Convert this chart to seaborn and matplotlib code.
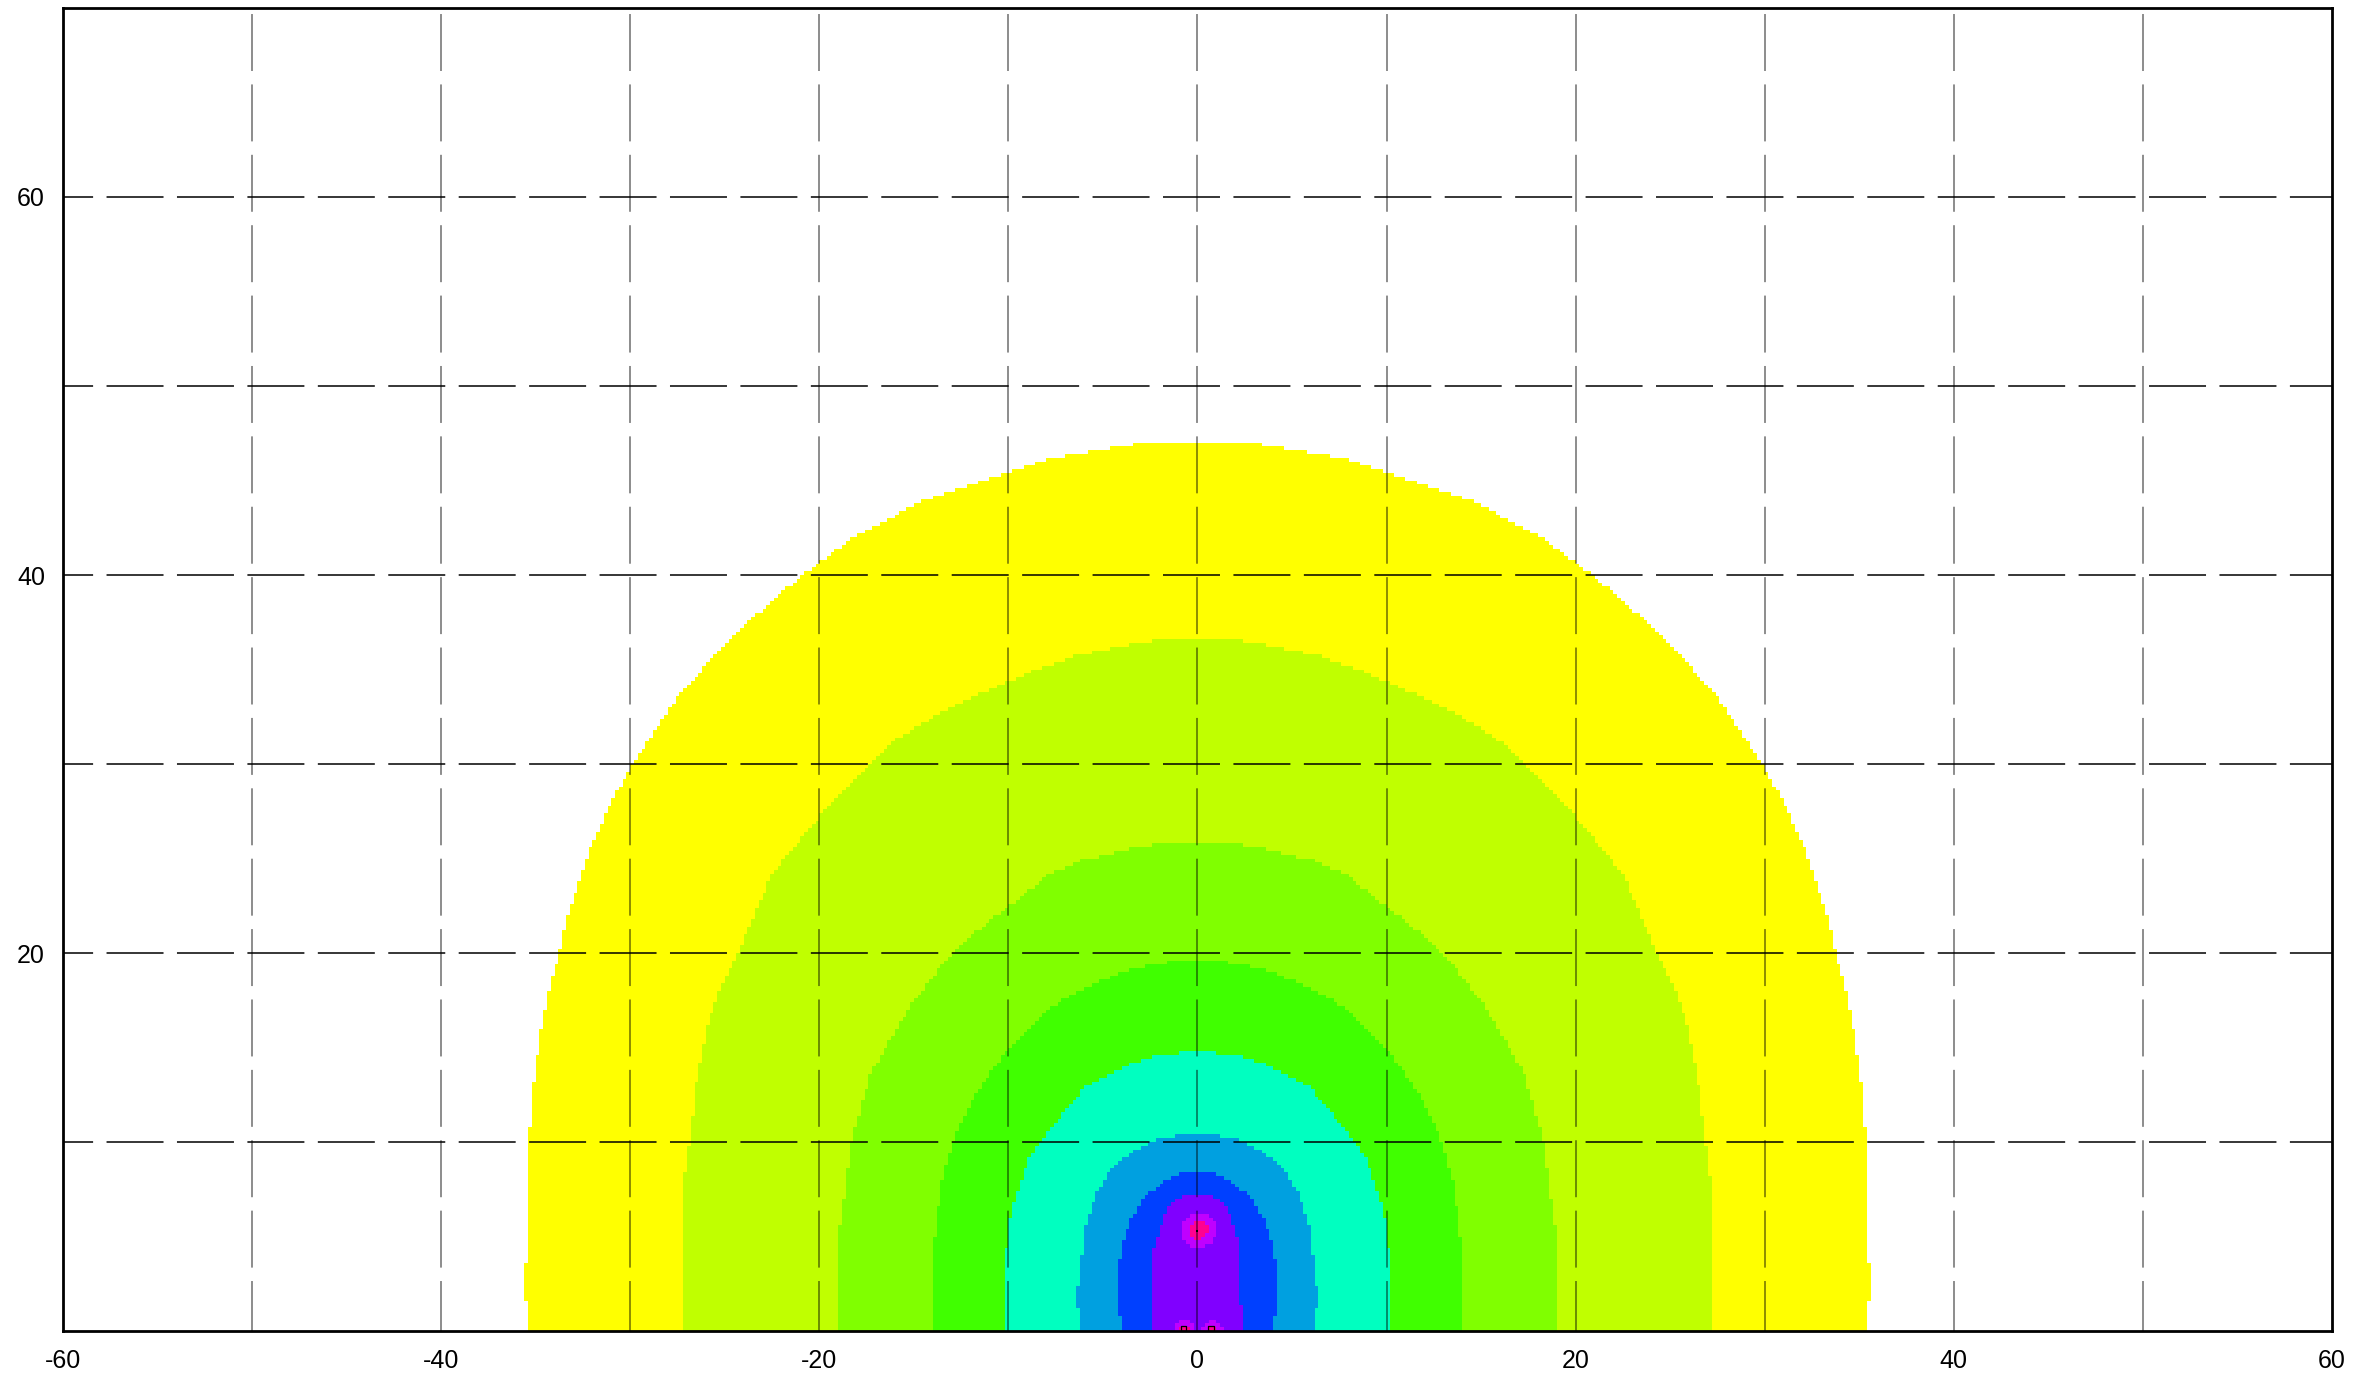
import numpy as np
import pandas as pd
import matplotlib
matplotlib.use("Agg")
import matplotlib.pyplot as plt
from matplotlib.colors import ListedColormap
import seaborn as sns

# level colours, outermost band first, then the two hot-spot levels
band_colors = ["#ffff00", "#c0ff00", "#80ff00", "#40ff00", "#00ffc0",
               "#00a0e0", "#0040ff", "#8000ff", "#c000ff", "#ff0090"]

# outline of each band: height y and half width |x|
yellow_y = [0, 1.5, 1.6, 3.6, 3.7, 10, 12.25, 14, 15.8, 18.06, 20, 21.76, 23.87,
            25.8, 28.1, 29.77, 31.6, 33.4, 36.6, 40, 41.85, 44, 46.17, 46.97, 47.05]
yellow_w = [35.4, 35.4, 35.6, 35.6, 35.4, 35.35, 35.2, 35.0, 34.73, 34.3, 33.76, 33.4, 32.7,
            32.0, 30.93, 30.0, 28.8, 27.6, 24.8, 20.9, 18.4, 14.4, 7.8, 3.0, 0]

lime_y = [0, 7.5, 9.1, 10.5, 13.1, 15.8, 18.06, 20.2, 24.2, 27.2, 30, 31.3, 33,
          34.36, 35.06, 35.77, 36.35, 36.6, 36.7]
lime_w = [27.2, 27.2, 27.0, 26.8, 26.5, 26.0, 25.3, 24.2, 22.5, 20.0, 17.3, 15.9, 13.1,
          10.0, 8.4, 6.3, 3.4, 1.8, 0]

chart_y = [0, 4.8, 10, 13.6, 17.2, 20, 21.2, 22.45, 24.2, 24.9, 25.54, 25.77, 25.85]
chart_w = [19.05, 19.0, 18.3, 17.3, 15.2, 13.0, 11.6, 10.0, 7.8, 6.1, 3.4, 1.9, 0]

green_y = [0, 3.04, 5.5, 7.63, 8.7, 10, 11.17, 12.23, 13.64, 14.88, 16.1, 17.0,
           17.44, 18.06, 18.59, 19.2, 19.55, 19.65]
green_w = [14.05, 14.05, 13.86, 13.57, 13.3, 12.9, 12.44, 11.87, 11.0, 10.0, 8.75, 8.0,
           7.24, 6.1, 4.97, 3.36, 1.2, 0]

aqua_y = [0, 3.04, 4.81, 6.57, 7.99, 9.05, 9.93, 10.64, 11.87, 12.93, 13.46, 14.17, 14.56, 14.7, 14.8]
aqua_w = [10.1, 10.17, 10.08, 9.79, 9.32, 8.94, 8.37, 7.8, 6.86, 5.9, 4.97, 3.36, 2.14, 1.0, 0]

sky_y = [0, 1.63, 3.92, 5.69, 7.28, 7.85, 8.34, 8.73, 9.05, 9.61, 10.1, 10.37, 10.45]
sky_w = [6.1, 6.39, 6.1, 5.9, 5.35, 5.0, 4.78, 4.3, 4.03, 3.2, 2.14, 0.8, 0]

blue_y = [0, 1.7, 3.3, 4.5, 6.08, 6.57, 6.97, 7.85, 8.34, 8.45]
blue_w = [4.0, 4.2, 4.2, 3.97, 3.45, 3.1, 2.9, 1.85, 1.0, 0]

violet_y = [0, 1.3, 1.4, 4.3, 5.2, 6.08, 6.5, 6.97, 7.18, 7.25]
violet_w = [2.45, 2.45, 2.3, 2.3, 2.03, 1.76, 1.6, 1.15, 0.6, 0]

# hot spots: centre, outer (c000ff) radius, core radius
spot_x = [0.05, -0.68, 0.8]
spot_y = [5.35, 0.0, 0.0]
spot_r = [0.92, 0.58, 0.58]
core_r = [0.48, 0.3, 0.3]

# source markers
src_x = [-0.72, 0.72]
src_y = [0.15, 0.15]
centre_x = [0.0]
centre_y = [5.3]

x_ticks = [-60, -40, -20, 0, 20, 40, 60]
x_tick_labels = ["-60", "-40", "-20", "0", "20", "40", "60"]
y_ticks = [20, 40, 60]
y_tick_labels = ["20", "40", "60"]
grid_x = [-50, -40, -30, -20, -10, 0, 10, 20, 30, 40, 50]
grid_y = [10, 20, 30, 40, 50, 60]

X_MIN, X_MAX, Y_MIN, Y_MAX = -60, 60, 0, 70
STEP = 0.2


def to_col(x):
    return (np.asarray(x, dtype=float) - X_MIN) / STEP


def to_row(y):
    return (Y_MAX - np.asarray(y, dtype=float)) / STEP


if __name__ == "__main__":
    sns.set_style("white")
    plt.rcParams["font.family"] = ["Liberation Sans", "DejaVu Sans"]

    # raster grid, top row first
    xs = np.arange(X_MIN + STEP / 2, X_MAX, STEP)
    ys = np.arange(Y_MAX - STEP / 2, Y_MIN, -STEP)
    X, Y = np.meshgrid(xs, ys)
    level = np.zeros(X.shape)

    bands = [(yellow_y, yellow_w), (lime_y, lime_w), (chart_y, chart_w),
             (green_y, green_w), (aqua_y, aqua_w), (sky_y, sky_w),
             (blue_y, blue_w), (violet_y, violet_w)]
    for i, (by, bw) in enumerate(bands, start=1):
        hw = np.interp(ys, by, bw, right=-1.0)
        level[np.abs(X) <= hw[:, None]] = i

    for sx, sy, r1, r2 in zip(spot_x, spot_y, spot_r, core_r):
        d = np.hypot(X - sx, Y - sy)
        level[d <= r1] = 9
        level[d <= r2] = 10

    df = pd.DataFrame(np.where(level > 0, level, np.nan))

    fig = plt.figure(figsize=(23.62, 13.79), dpi=100)
    ax = fig.add_axes([0.02667, 0.0348, 0.9606, 0.9594])
    sns.heatmap(df, cmap=ListedColormap(band_colors), vmin=0.5, vmax=10.5,
                cbar=False, xticklabels=False, yticklabels=False, ax=ax)

    # dashed grid on top of the field
    for gx in grid_x:
        ax.axvline(to_col(gx), color=(0, 0, 0, 0.45), lw=1.4,
                   ls=(3.6, (29.3, 6.9)), zorder=5)
    for gy in grid_y:
        ax.axhline(to_row(gy), color="black", lw=1.1,
                   ls=(17.6, (37.3, 8.8)), zorder=5)

    sns.scatterplot(x=to_col(src_x), y=to_row(src_y), marker="s", s=14,
                    facecolor="none", edgecolor="black", linewidth=0.9,
                    zorder=6, ax=ax)
    sns.scatterplot(x=to_col(centre_x), y=to_row(centre_y), marker="s", s=3,
                    color="black", linewidth=0, zorder=6, ax=ax)

    ax.set_xlim(0, df.shape[1])
    ax.set_ylim(df.shape[0], 0)
    ax.set_xticks(to_col(x_ticks))
    ax.set_xticklabels(x_tick_labels, rotation=0)
    ax.set_yticks(to_row(y_ticks))
    ax.set_yticklabels(y_tick_labels, rotation=0)
    ax.set_xlabel("")
    ax.set_ylabel("")
    ax.tick_params(length=0, pad=13, labelsize=18, colors="black")

    for s in ax.spines.values():
        s.set_visible(True)
        s.set_color("black")
        s.set_linewidth(2)
        s.set_zorder(7)

    fig.savefig("out.png", dpi=100)
